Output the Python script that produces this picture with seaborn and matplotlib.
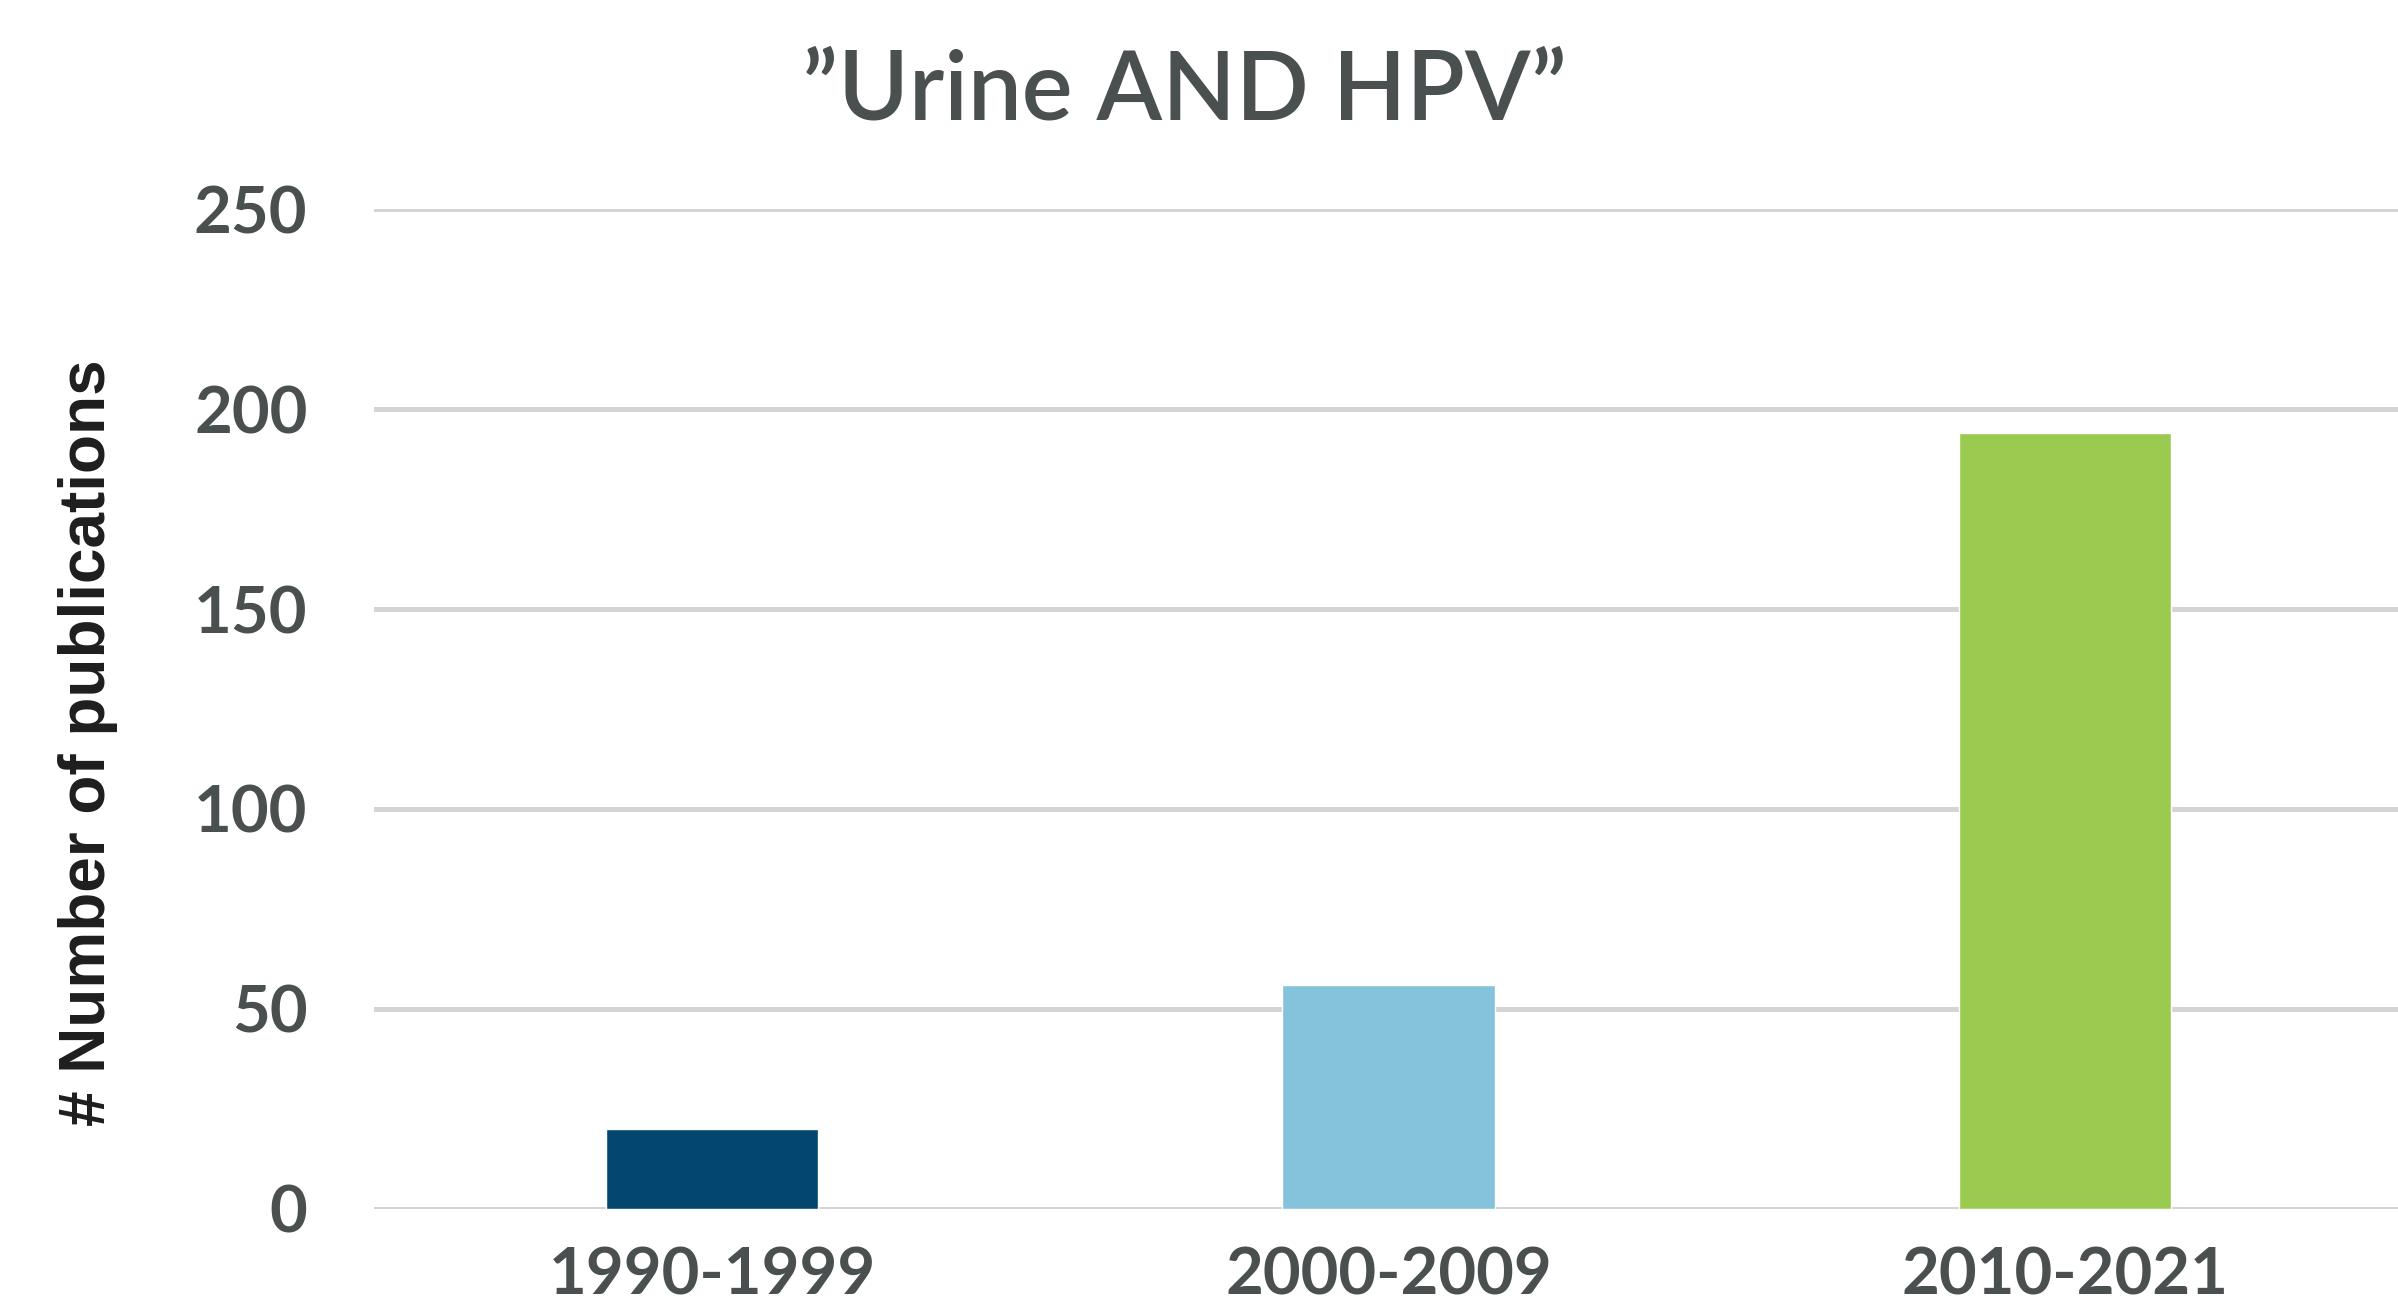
import matplotlib
matplotlib.use("Agg")
import matplotlib.pyplot as plt
import seaborn as sns
import pandas as pd

categories = ["1990-1999", "2000-2009", "2010-2021"]
publications = [20, 56, 194]
bar_colors = ["#03466E", "#85C3DD", "#9BCA51"]
y_ticks = [0, 50, 100, 150, 200, 250]
title_text = "\u201dUrine AND HPV\u201d"
ylabel_text = "# Number of publications"

sns.set_theme(style="white")
plt.rcParams['font.family'] = ['Lato', 'DejaVu Sans']

TEXT = "#4A4F4F"
GRID = "#D3D4D3"

df = pd.DataFrame({"period": categories, "count": publications})

fig = plt.figure(figsize=(23.98, 13.08), dpi=100)
ax = fig.add_axes([0.156, 0.0757, 0.846, 0.7645])

sns.barplot(data=df, x="period", y="count", hue="period", palette=bar_colors,
            width=0.314, legend=False, ax=ax, saturation=1, zorder=3)

ax.set_ylim(0, 250)
ax.set_xlim(-0.5, 2.5)
ax.set_yticks(y_ticks)
ax.set_yticklabels([str(t) for t in y_ticks], fontsize=47, fontweight='bold', color=TEXT)
ax.set_xticks(range(len(categories)))
ax.set_xticklabels(categories, fontsize=47, fontweight='bold', color=TEXT)
ax.tick_params(axis='y', length=0, pad=48)
ax.tick_params(axis='x', length=0, pad=27)
ax.yaxis.grid(True, color=GRID, linewidth=3.6, zorder=0)
ax.set_axisbelow(True)
for s in ax.spines.values():
    s.set_visible(False)
ax.set_xlabel("")
ax.set_ylabel(ylabel_text, fontsize=46, fontweight='bold', color="#1E1E1E",
              family=['Liberation Sans', 'DejaVu Sans'])
ax.yaxis.set_label_coords(-0.126, 0.466)

fig.text(0.494, 0.93, title_text, fontsize=69, color=TEXT, ha='center', va='center',
         fontweight='semibold')

fig.savefig("out.png", dpi=100)
